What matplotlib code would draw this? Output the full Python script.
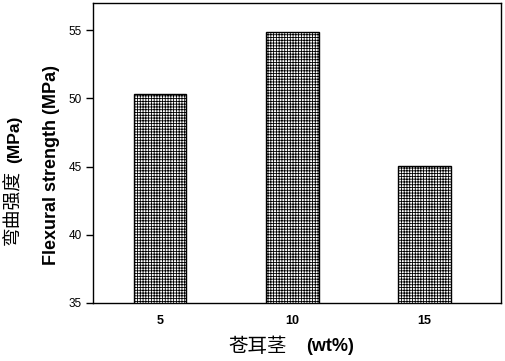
import numpy as np
import matplotlib.pyplot as plt

plt.rcParams['hatch.linewidth'] = 0.6

contents = [5, 10, 15]
strength = [50.3, 54.85, 45.05]
tick_labels = ["5", "10", "15"]

cjk = ["Noto Sans CJK SC", "DejaVu Sans"]

fig = plt.figure(figsize=(5.05, 3.61), dpi=100)
ax = fig.add_axes([0.184, 0.161, 0.808, 0.831])

ax.bar(contents, strength, width=2.0, bottom=0, color="white",
       edgecolor="black", hatch="++++++", linewidth=1.0)
ax.set_xlim(2.46, 17.9)
ax.set_ylim(35, 57)
ax.set_yticks([35, 40, 45, 50, 55])
ax.set_xticks(contents)
ax.set_xticklabels(tick_labels, fontweight="bold", family="Liberation Sans", fontsize=9)
ax.tick_params(axis="x", length=0, pad=9)
ax.tick_params(axis="y", length=5, width=1, direction="out", pad=3)
for t in ax.get_yticklabels():
    t.set_family("Liberation Sans")
    t.set_fontsize(8.5)
for s in ax.spines.values():
    s.set_linewidth(1.0)

# y labels: chinese + english
fig.text(0.026, 0.32, "弯曲强度", rotation=90, ha="center", va="bottom",
         fontsize=13.5, family=cjk)
fig.text(0.028, 0.68, "(MPa)", rotation=90, ha="center", va="top",
         fontsize=12.5, fontweight="bold", family="Liberation Sans")
fig.text(0.101, 0.543, "Flexural strength (MPa)", rotation=90, ha="center", va="center",
         fontsize=13, fontweight="bold", family="Liberation Sans")

# x label
fig.text(0.453, 0.04, "苍耳茎", ha="left", va="center",
         fontsize=14, family=cjk)
fig.text(0.607, 0.04, "(wt%)", ha="left", va="center",
         fontsize=13, fontweight="bold", family="Liberation Sans")

fig.savefig("out.png", dpi=100)
